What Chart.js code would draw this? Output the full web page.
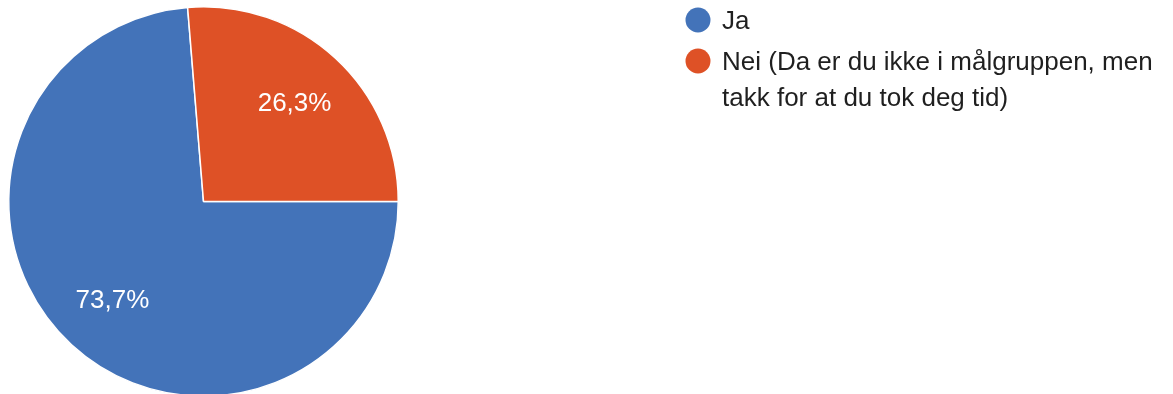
<!DOCTYPE html>
<html>
<head>
<meta charset="utf-8">
<script src="https://cdn.jsdelivr.net/npm/chart.js@4"></script>
<style>
  html, body { margin: 0; padding: 0; background: #fff; overflow: hidden; }
  #wrap { width: 1173px; height: 400px; position: relative; }
</style>
</head>
<body>
<div id="wrap"><canvas id="pieChart"></canvas></div>
<script>
// data
const categories = ["Ja", "Nei (Da er du ikke i målgruppen, men takk for at du tok deg tid)"];
const shares = [73.7, 26.3];
const sliceColors = ["#4373b9", "#de5126"];

// percent labels inside slices
const sliceLabels = {
    id: "sliceLabels",
    afterDatasetsDraw(chart) {
        const ctx = chart.ctx;
        const meta = chart.getDatasetMeta(0);
        const total = shares.reduce((a, b) => a + b, 0);
        ctx.save();
        ctx.fillStyle = "#ffffff";
        ctx.font = "26px 'Liberation Sans', Arial, sans-serif";
        ctx.textAlign = "center";
        ctx.textBaseline = "middle";
        meta.data.forEach((arc, i) => {
            const mid = (arc.startAngle + arc.endAngle) / 2;
            const r = arc.outerRadius * 0.69;
            const pct = (shares[i] / total * 100).toFixed(1).replace(".", ",") + "%";
            ctx.fillText(pct, arc.x + Math.cos(mid) * r, arc.y + Math.sin(mid) * r + 1);
        });
        ctx.restore();
    }
};

// legend on the right, wraps long labels
const sideLegend = {
    id: "sideLegend",
    afterDraw(chart) {
        const ctx = chart.ctx;
        const x0 = 698, maxW = 445, lineH = 36;
        let y = 20;
        ctx.save();
        ctx.font = "26px 'Liberation Sans', Arial, sans-serif";
        ctx.textBaseline = "middle";
        categories.forEach((label, i) => {
            // wrap
            const words = label.split(" ");
            const lines = [];
            let cur = "";
            words.forEach(w => {
                const test = cur ? cur + " " + w : w;
                if (ctx.measureText(test).width > maxW && cur) {
                    lines.push(cur);
                    cur = w;
                } else {
                    cur = test;
                }
            });
            lines.push(cur);

            ctx.fillStyle = sliceColors[i];
            ctx.beginPath();
            ctx.arc(x0, y, 12.5, 0, Math.PI * 2);
            ctx.fill();

            ctx.fillStyle = "#1f1f1f";
            lines.forEach((ln, j) => {
                ctx.fillText(ln, x0 + 24, y + 2 + j * lineH);
            });
            y += 41 + (lines.length - 1) * lineH;
        });
        ctx.restore();
    }
};

new Chart(document.getElementById("pieChart"), {
    type: "pie",
    data: {
        labels: categories,
        datasets: [{
            data: shares,
            backgroundColor: sliceColors,
            borderColor: "#ffffff",
            borderWidth: 1.5
        }]
    },
    options: {
        responsive: true,
        maintainAspectRatio: false,
        animation: false,
        rotation: 90,
        layout: {
            padding: { left: 7, right: 773, top: 6, bottom: 3 }
        },
        plugins: {
            legend: { display: false },
            tooltip: { enabled: false }
        }
    },
    plugins: [sliceLabels, sideLegend]
});
</script>
</body>
</html>
